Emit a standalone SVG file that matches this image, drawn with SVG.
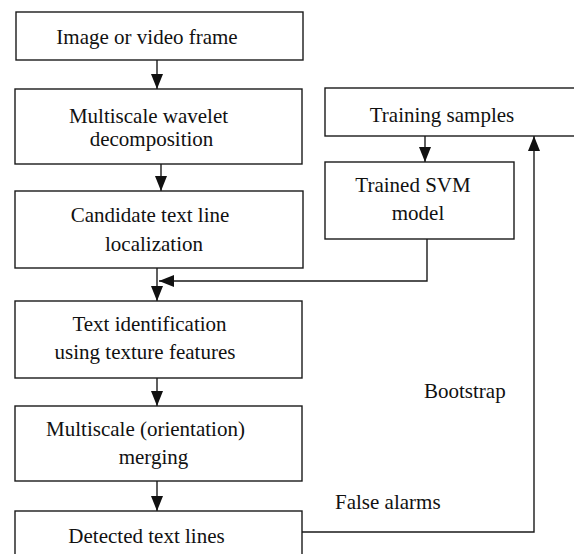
<svg xmlns="http://www.w3.org/2000/svg" width="574" height="554" viewBox="0 0 574 554">
  <style>
    .box { fill: #ffffff; stroke: #1a1a1a; stroke-width: 1.4; }
    .lbl { font-family: "Liberation Serif", "Times New Roman", serif; font-size: 21px; fill: #111111; text-anchor: middle; }
    .note { font-family: "Liberation Serif", "Times New Roman", serif; font-size: 21px; fill: #111111; }
    .wire { fill: none; stroke: #1a1a1a; stroke-width: 1.4; }
  </style>
  <defs>
    <marker id="arrow" markerUnits="userSpaceOnUse" markerWidth="16" markerHeight="12" refX="15" refY="6" orient="auto">
      <path d="M0,0 L15,6 L0,12 Z" fill="#111111"/>
    </marker>
  </defs>
  <rect width="574" height="554" fill="#ffffff"/>

  <!-- connectors -->
  <g id="connectors">
    <line class="wire" x1="157" y1="60" x2="157" y2="89" marker-end="url(#arrow)"/>
    <line class="wire" x1="161" y1="164" x2="161" y2="191" marker-end="url(#arrow)"/>
    <line class="wire" x1="157" y1="268" x2="157" y2="301" marker-end="url(#arrow)"/>
    <line class="wire" x1="157" y1="378" x2="157" y2="406" marker-end="url(#arrow)"/>
    <line class="wire" x1="157" y1="481" x2="157" y2="511" marker-end="url(#arrow)"/>
    <line class="wire" x1="425" y1="136" x2="425" y2="162" marker-end="url(#arrow)"/>
    <polyline class="wire" points="427,239 427,281 159,281" marker-end="url(#arrow)"/>
    <polyline class="wire" points="302,532 534,532 534,136" marker-end="url(#arrow)"/>
  </g>

  <!-- main pipeline -->
  <g id="frame">
    <rect class="box" x="16" y="12" width="287" height="48"/>
    <text class="lbl" x="147" y="44">Image or video frame</text>
  </g>
  <g id="wavelet">
    <rect class="box" x="15" y="89" width="287" height="75"/>
    <text class="lbl" x="148.5" y="123">Multiscale wavelet</text>
    <text class="lbl" x="151.5" y="146">decomposition</text>
  </g>
  <g id="candidate">
    <rect class="box" x="15" y="191" width="288" height="77"/>
    <text class="lbl" x="150" y="222">Candidate text line</text>
    <text class="lbl" x="154" y="251">localization</text>
  </g>
  <g id="identification">
    <rect class="box" x="15" y="301" width="287" height="77"/>
    <text class="lbl" x="149.5" y="331">Text identification</text>
    <text class="lbl" x="145" y="359">using texture features</text>
  </g>
  <g id="merging">
    <rect class="box" x="15" y="406" width="287" height="75"/>
    <text class="lbl" x="145.5" y="436">Multiscale (orientation)</text>
    <text class="lbl" x="153.5" y="464">merging</text>
  </g>
  <g id="detected">
    <rect class="box" x="15" y="511" width="287" height="60"/>
    <text class="lbl" x="146.5" y="543">Detected text lines</text>
  </g>

  <!-- training branch -->
  <g id="samples">
    <rect class="box" x="325" y="88" width="270" height="48"/>
    <text class="lbl" x="442" y="122">Training samples</text>
  </g>
  <g id="svm">
    <rect class="box" x="325" y="162" width="189" height="77"/>
    <text class="lbl" x="413" y="192">Trained SVM</text>
    <text class="lbl" x="418" y="220">model</text>
  </g>

  <!-- loop labels -->
  <text class="note" x="424" y="398">Bootstrap</text>
  <text class="note" x="335" y="509">False alarms</text>
</svg>
